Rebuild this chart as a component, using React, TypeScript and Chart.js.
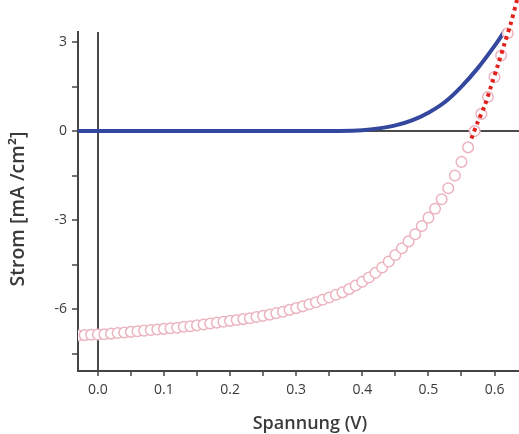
import React, { useEffect, useRef } from "react";
import { Chart, registerables } from "chart.js";

Chart.register(...registerables);

const X_TITLE = "Spannung (V)";
const Y_TITLE = "Strom [mA /cm²]";

// Measured J-V curve (open circles)
const MEAS_V = [
  -0.03, -0.02, -0.01, 0.0, 0.01, 0.02, 0.03, 0.04, 0.05, 0.06, 0.07, 0.08, 0.09,
  0.1, 0.11, 0.12, 0.13, 0.14, 0.15, 0.16, 0.17, 0.18, 0.19, 0.2, 0.21, 0.22, 0.23,
  0.24, 0.25, 0.26, 0.27, 0.28, 0.29, 0.3, 0.31, 0.32, 0.33, 0.34, 0.35, 0.36, 0.37,
  0.38, 0.39, 0.4, 0.41, 0.42, 0.43, 0.44, 0.45, 0.46, 0.47, 0.48, 0.49, 0.5, 0.51,
  0.52, 0.53, 0.54, 0.55, 0.56, 0.57, 0.58, 0.59, 0.6, 0.61, 0.62,
];
const MEAS_J = [
  -6.89, -6.88, -6.87, -6.86, -6.85, -6.83, -6.81, -6.79, -6.77, -6.75, -6.73, -6.71, -6.69,
  -6.67, -6.65, -6.63, -6.6, -6.58, -6.55, -6.52, -6.49, -6.46, -6.43, -6.4, -6.37, -6.34, -6.31,
  -6.27, -6.23, -6.19, -6.14, -6.09, -6.03, -5.97, -5.91, -5.84, -5.77, -5.69, -5.61, -5.52, -5.44,
  -5.33, -5.21, -5.08, -4.94, -4.78, -4.6, -4.4, -4.18, -3.95, -3.72, -3.48, -3.2, -2.92, -2.62,
  -2.3, -1.93, -1.5, -1.04, -0.55, 0.0, 0.58, 1.15, 1.82, 2.55, 3.3,
];

// Red dotted fit line
const FIT_V = [0.565, 0.574, 0.585, 0.595, 0.605, 0.615, 0.625, 0.634];
const FIT_J = [-0.25, 0.27, 0.85, 1.53, 2.22, 2.94, 3.66, 4.42];

// Dark curve (blue)
const DARK_V = [-0.03, 0.3, 0.36, 0.4, 0.425, 0.45, 0.475, 0.5, 0.525, 0.55, 0.575, 0.6, 0.616];
const DARK_J = [0, 0, 0.005, 0.03, 0.09, 0.19, 0.36, 0.62, 0.98, 1.5, 2.13, 2.87, 3.4];

const X_MIN = -0.03;
const X_MAX = 0.637;
const Y_MIN = -8.09;
const Y_MAX = 3.34;

const FONT = "'Open Sans', 'DejaVu Sans', sans-serif";
const AXIS_COLOR = "#444444";
const TEXT_COLOR = "#3a3a3a";
const OPEN_TOP = { left: 0, top: 40, right: 10, bottom: 0 };

export default function App() {
  const canvasRef = useRef<HTMLCanvasElement | null>(null);

  useEffect(() => {
    const canvas = canvasRef.current;
    if (!canvas) return;

    const titlePlugin = {
      id: "axisTitles",
      afterDraw(chart: any) {
        const ctx = chart.ctx;
        ctx.save();
        ctx.font = `600 18px ${FONT}`;
        ctx.fillStyle = TEXT_COLOR;
        ctx.textAlign = "center";
        ctx.textBaseline = "middle";
        ctx.fillText(X_TITLE, 310, 424);
        ctx.translate(18, 209);
        ctx.rotate(-Math.PI / 2);
        ctx.font = `600 19.5px ${FONT}`;
        ctx.fillText(Y_TITLE, 0, 0);
        ctx.restore();
      },
    };

    const zeroColor = (c: any) =>
      c.tick && Math.abs(c.tick.value) < 1e-9 ? "#4a4a4a" : "rgba(0,0,0,0)";

    const chart = new Chart(canvas, {
      type: "scatter",
      data: {
        datasets: [
          {
            label: "fit",
            data: FIT_V.map((v, i) => ({ x: v, y: FIT_J[i] })),
            showLine: true,
            borderColor: "#e3211c",
            borderWidth: 4,
            borderDash: [3.5, 4],
            pointRadius: 0,
            tension: 0.3,
            clip: OPEN_TOP,
          },
          {
            label: "hell",
            data: MEAS_V.map((v, i) => ({ x: v, y: MEAS_J[i] })),
            showLine: false,
            pointRadius: 5.3,
            pointBorderWidth: 1.5,
            borderColor: "#ecb4bf",
            pointBorderColor: "#ecb4bf",
            backgroundColor: "#ffffff",
            pointBackgroundColor: "#ffffff",
            clip: OPEN_TOP,
          },
          {
            label: "dunkel",
            data: DARK_V.map((v, i) => ({ x: v, y: DARK_J[i] })),
            showLine: true,
            borderColor: "#34479f",
            borderWidth: 4,
            pointRadius: 0,
            cubicInterpolationMode: "monotone",
            clip: OPEN_TOP,
          },
        ],
      },
      options: {
        animation: false,
        responsive: false,
        maintainAspectRatio: false,
        layout: { autoPadding: false, padding: { top: 32, right: 0, left: 0, bottom: 0 } },
        plugins: {
          legend: { display: false },
          tooltip: { enabled: false },
        },
        scales: {
          x: {
            type: "linear",
            min: X_MIN,
            max: X_MAX,
            afterFit: (s: any) => {
              s.height = 63;
            },
            border: { display: true, color: AXIS_COLOR, width: 2 },
            grid: {
              drawOnChartArea: true,
              drawTicks: true,
              tickLength: 5,
              tickColor: AXIS_COLOR,
              tickWidth: 1.5,
              color: zeroColor,
              lineWidth: 2,
            },
            ticks: {
              stepSize: 0.05,
              includeBounds: false,
              autoSkip: false,
              maxRotation: 0,
              padding: 6,
              color: TEXT_COLOR,
              font: { family: FONT, size: 14 },
              callback: (v: any) => {
                const n = Math.round(Number(v) * 100);
                return n % 10 === 0 ? (n / 100).toFixed(1) : "";
              },
            },
          },
          y: {
            type: "linear",
            min: Y_MIN,
            max: Y_MAX,
            afterFit: (s: any) => {
              s.width = 78;
            },
            border: { display: true, color: AXIS_COLOR, width: 2 },
            grid: {
              drawOnChartArea: true,
              drawTicks: true,
              tickLength: 6,
              tickColor: AXIS_COLOR,
              tickWidth: 1.5,
              color: zeroColor,
              lineWidth: 2,
            },
            ticks: {
              stepSize: 1.5,
              includeBounds: false,
              autoSkip: false,
              padding: 5,
              color: TEXT_COLOR,
              font: { family: FONT, size: 14 },
              callback: (v: any) => {
                const n = Math.round(Number(v) * 10);
                return n % 30 === 0 ? String(n / 10) : "";
              },
            },
          },
        },
      },
      plugins: [titlePlugin],
    });

    return () => chart.destroy();
  }, []);

  return (
    <div style={{ position: "absolute", left: 0, top: 0, width: 519, height: 434, background: "#ffffff" }}>
      <canvas ref={canvasRef} width={519} height={434} style={{ display: "block", width: 519, height: 434 }} />
    </div>
  );
}
